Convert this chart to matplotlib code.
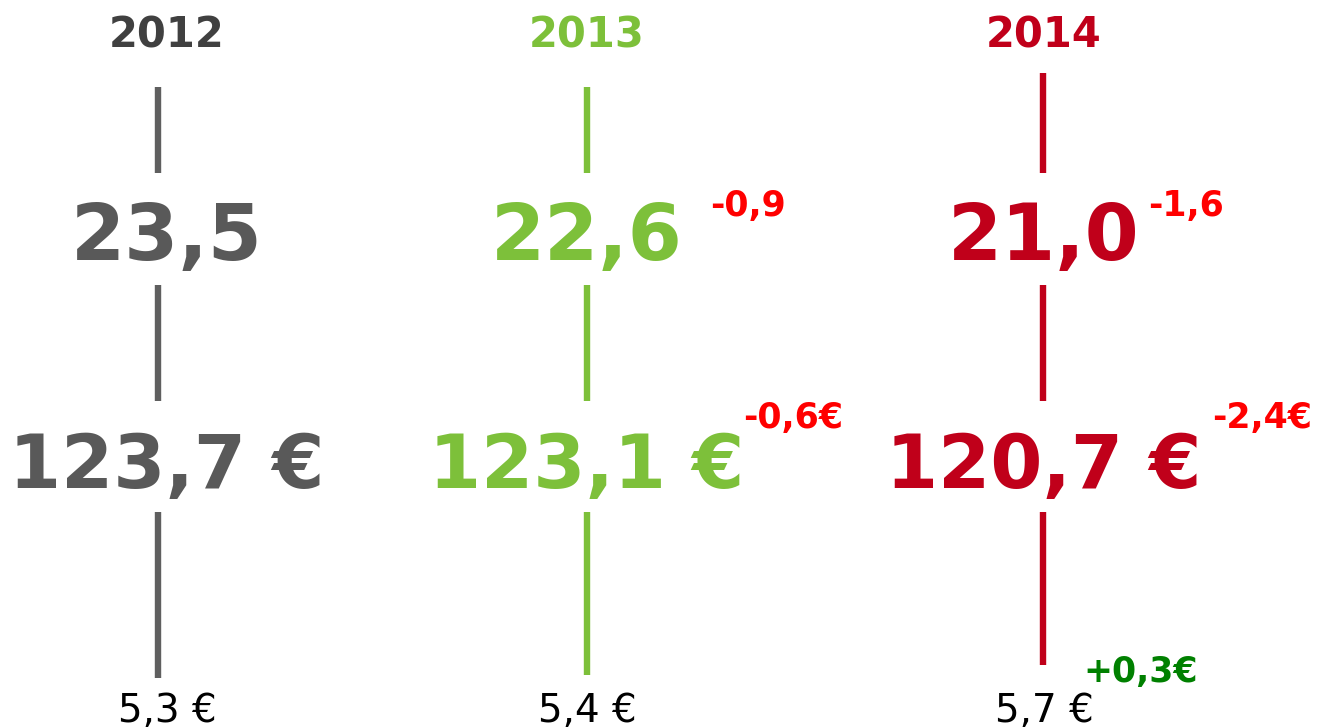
import matplotlib
matplotlib.use("Agg")
import matplotlib.pyplot as plt

# data
years = ["2012", "2013", "2014"]
row1_values = [23.5, 22.6, 21.0]
row2_values = [123.7, 123.1, 120.7]
row3_values = [5.3, 5.4, 5.7]
row1_deltas = [None, -0.9, -1.6]
row2_deltas = [None, -0.6, -2.4]
row3_deltas = [None, None, 0.3]

# styles
year_colors = ["#404040", "#7dc03a", "#c0001a"]
value_colors = ["#595959", "#7dc03a", "#c0001a"]
line_colors = ["#5f5f5f", "#7dc03a", "#c0001a"]
neg_color = "#ff0000"
pos_color = "#008000"

# layout (pixels)
col_x = [167, 587, 1044]
line_x = [158, 587, 1043]
segments = [
    [(87, 173), (285, 401), (512, 678)],
    [(87, 173), (285, 401), (512, 675)],
    [(73, 173), (285, 401), (512, 665)],
]
delta_dx = {1: [None, 123, 104], 2: [None, 156, 168], 3: [None, None, 39]}
delta_y = {1: 216, 2: 428, 3: 682}


def fmt(v, sign=False):
    s = f"{v:+.1f}" if sign else f"{v:.1f}"
    return s.replace(".", ",")


fig = plt.figure(figsize=(13.17, 7.28), dpi=100)
ax = fig.add_axes([0, 0, 1, 1])
ax.set_xlim(0, 1317)
ax.set_ylim(728, 0)
ax.axis("off")

for i, year in enumerate(years):
    x = col_x[i]
    for y0, y1 in segments[i]:
        ax.plot([line_x[i], line_x[i]], [y0, y1], color=line_colors[i],
                lw=4.6, solid_capstyle="butt")
    ax.text(x, 47, year, ha="center", va="baseline", fontsize=30,
            fontweight="bold", color=year_colors[i])
    ax.text(x, 260, fmt(row1_values[i]), ha="center", va="baseline",
            fontsize=56, fontweight="bold", color=value_colors[i])
    ax.text(x, 488, fmt(row2_values[i]) + " €", ha="center", va="baseline",
            fontsize=54, fontweight="bold", color=value_colors[i])
    ax.text(x, 722, fmt(row3_values[i]) + " €", ha="center", va="baseline",
            fontsize=28, color="black")

    rows = {1: (row1_deltas, ""), 2: (row2_deltas, "€"), 3: (row3_deltas, "€")}
    for r, (deltas, unit) in rows.items():
        d = deltas[i]
        if d is None:
            continue
        c = neg_color if d < 0 else pos_color
        txt = (fmt(d) if d < 0 else fmt(d, sign=True)) + unit
        ax.text(x + delta_dx[r][i], delta_y[r], txt, ha="left", va="baseline",
                fontsize=25, fontweight="bold", color=c)

fig.savefig("out.png", dpi=100)
